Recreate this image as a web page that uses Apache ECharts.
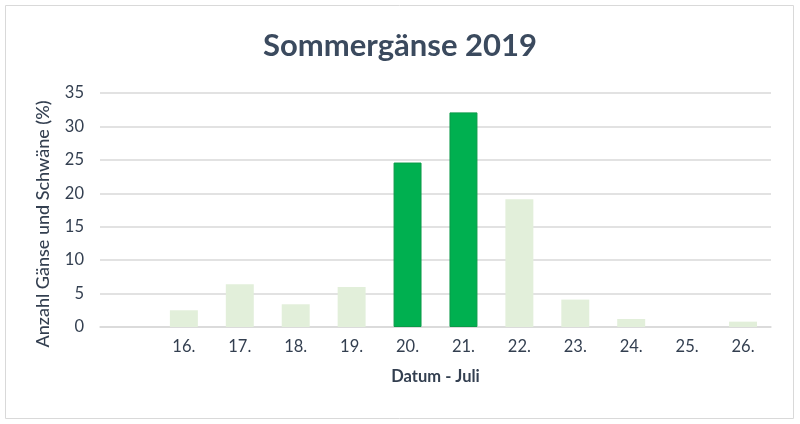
<!DOCTYPE html>
<html>
<head>
<meta charset="utf-8">
<script src="https://cdn.jsdelivr.net/npm/echarts@6/dist/echarts.min.js"></script>
<style>
  html, body { margin: 0; padding: 0; background: #fff; }
  #chart { width: 800px; height: 424px; }
</style>
</head>
<body>
<div id="chart"></div>
<script>
// Tage im Juli (erste Kategorie bleibt leer)
var days = ['', '16.', '17.', '18.', '19.', '20.', '21.', '22.', '23.', '24.', '25.', '26.'];
var values = [null, 2.5, 6.4, 3.4, 6.0, 24.6, 32.1, 19.1, 4.1, 1.2, 0, 0.8];
// hervorgehobene Tage
var highlight = ['20.', '21.'];

var textColor = '#333f50';
var lightGreen = '#e2efda';
var darkGreen = '#00b050';

var myChart = echarts.init(document.getElementById('chart'));

var barData = values.map(function (v, i) {
    var hot = highlight.indexOf(days[i]) >= 0;
    return {
        value: v,
        itemStyle: {
            color: hot ? darkGreen : lightGreen,
            borderColor: hot ? '#0a9a48' : lightGreen,
            borderWidth: hot ? 1 : 0
        }
    };
});

myChart.setOption({
    animation: false,
    graphic: [{
        type: 'rect',
        shape: { x: 5.5, y: 5.5, width: 788, height: 413 },
        style: { fill: 'none', stroke: '#d9d9d9', lineWidth: 1 }
    }],
    title: {
        text: 'Sommergänse 2019',
        left: 'center',
        top: 25,
        textStyle: {
            fontFamily: 'Lato',
            fontWeight: 'bold',
            fontSize: 31,
            color: '#3b4a5e'
        }
    },
    grid: { left: 100, right: 29, top: 93, bottom: 97 },
    xAxis: {
        type: 'category',
        data: days,
        name: 'Datum - Juli',
        nameLocation: 'middle',
        nameGap: 41,
        nameTextStyle: { fontFamily: 'Lato', fontWeight: 'bold', fontSize: 16.5, color: textColor },
        axisLine: { lineStyle: { color: '#d9d9d9', width: 1.5 } },
        axisTick: { show: false },
        axisLabel: { fontFamily: 'Lato', fontSize: 16.5, color: textColor, margin: 11 }
    },
    yAxis: {
        type: 'value',
        min: 0,
        max: 35,
        interval: 5,
        name: 'Anzahl Gänse und Schwäne (%)',
        nameLocation: 'middle',
        nameGap: 48,
        nameTextStyle: { fontFamily: 'Lato', fontWeight: 500, fontSize: 18, color: textColor, padding: [0, 28, 0, 0] },
        axisLine: { show: false },
        axisTick: { show: false },
        splitLine: { lineStyle: { color: '#d9d9d9', width: 1.5 } },
        axisLabel: { fontFamily: 'Lato', fontSize: 16.5, color: textColor, margin: 16 }
    },
    series: [{
        type: 'bar',
        data: barData,
        barCategoryGap: '50%'
    }]
});
</script>
</body>
</html>
